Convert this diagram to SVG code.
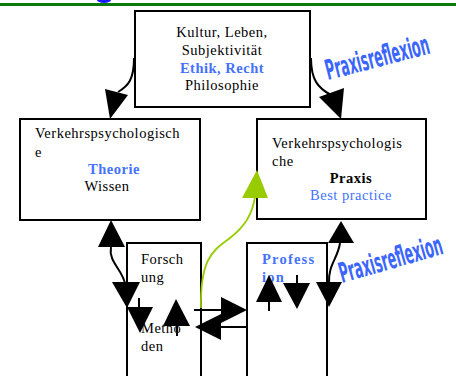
<svg xmlns="http://www.w3.org/2000/svg" width="456" height="376" viewBox="0 0 456 376">
<style>
.box{fill:#fff;stroke:#000;stroke-width:2}
.t{font-family:"Liberation Serif","Times New Roman",serif;font-size:14.5px;letter-spacing:0.5px;fill:#000}
.c{text-anchor:middle}
.b{font-weight:bold}
.blue{fill:#4472ff}
.ln{fill:none;stroke:#000;stroke-width:2}
.ah{fill:#000}
.wa{font-family:"DejaVu Sans",sans-serif;font-weight:bold;font-size:28px;fill:#3a66ff}
</style>
<rect width="456" height="376" fill="#fff"/>
<ellipse cx="104" cy="0" rx="7" ry="3" fill="#1a1aff"/>
<rect x="0" y="3" width="456" height="3" fill="#0a7a0a"/>

<g id="top">
<rect class="box" x="135" y="11" width="175" height="96"/>
<text class="t c" x="222" y="37">Kultur, Leben,</text>
<text class="t c" x="222" y="55">Subjektivität</text>
<text class="t c b blue" x="222" y="73">Ethik, Recht</text>
<text class="t c" x="222" y="90">Philosophie</text>
</g>

<g id="theorie">
<rect class="box" x="20" y="119" width="180" height="101"/>
<text class="t" x="35" y="138">Verkehrspsychologisch</text>
<text class="t" x="35" y="157">e</text>
<text class="t c b blue" x="114" y="174">Theorie</text>
<text class="t c" x="107" y="191">Wissen</text>
</g>

<g id="praxis">
<rect class="box" x="257" y="119" width="169" height="100"/>
<text class="t" x="272" y="148">Verkehrspsychologis</text>
<text class="t" x="272" y="166">che</text>
<text class="t c b" x="351" y="183">Praxis</text>
<text class="t c blue" x="351" y="200">Best practice</text>
</g>

<g id="forschung">
<rect class="box" x="127" y="243" width="74" height="140"/>
<text class="t" x="141" y="264">Forsch</text>
<text class="t" x="141" y="282">ung</text>
<text class="t" x="141" y="333">Metho</text>
<text class="t" x="141" y="351">den</text>
</g>

<g id="profession">
<rect class="box" x="247" y="243" width="80" height="140"/>
<text class="t b blue" x="262" y="264" style="letter-spacing:1.2px">Profess</text>
<text class="t b blue" x="262" y="282" style="letter-spacing:1.2px">ion</text>
</g>

<g id="labels">
<text class="wa" transform="translate(328,80) rotate(-14.5) scale(0.45,1)">Praxisreflexion</text>
<text class="wa" transform="translate(342,283) rotate(-16) scale(0.45,1)">Praxisreflexion</text>
</g>

<g id="connectors">
<path class="ln" d="M134,58 C134,80 128,86 118,92"/>
<polygon class="ah" points="105,89 128,95 110,119"/>
<path class="ln" d="M311,58 C311,80 318,88 331,95"/>
<polygon class="ah" points="319,97 344,88 341,119"/>

<polygon class="ah" points="111,220 98,247 125,247"/>
<path class="ln" d="M111,247 C108,262 123,270 125,284"/>
<polygon class="ah" points="112,282 140,282 127,308"/>
<path class="ln" d="M139,298 V308"/>
<polygon class="ah" points="127,307 153,307 140,333"/>

<polygon class="ah" points="176,299 163,326 190,326"/>
<path class="ln" d="M177,326 V336"/>

<path class="ln" d="M194,310 H223"/>
<polygon class="ah" points="221,297 247,310 221,323"/>
<path class="ln" d="M247,327 H219"/>
<polygon class="ah" points="195,327 221,314 221,340"/>

<polygon class="ah" points="269,275 256,302 282,302"/>
<path class="ln" d="M269,302 V311"/>
<path class="ln" d="M297,275 V284"/>
<polygon class="ah" points="283,283 310,283 297,309"/>

<polygon class="ah" points="341,221 328,243 354,243"/>
<path class="ln" d="M340,243 C338,258 328,265 329,283"/>
<polygon class="ah" points="316,282 342,282 329,307"/>

<path fill="none" stroke="#99cc00" stroke-width="1.8" d="M201,308 C200,255 215,250 230,238 C245,226 252,215 255,197"/>
<polygon fill="#99cc00" points="257,170 242,198 268,198"/>
</g>
</svg>
